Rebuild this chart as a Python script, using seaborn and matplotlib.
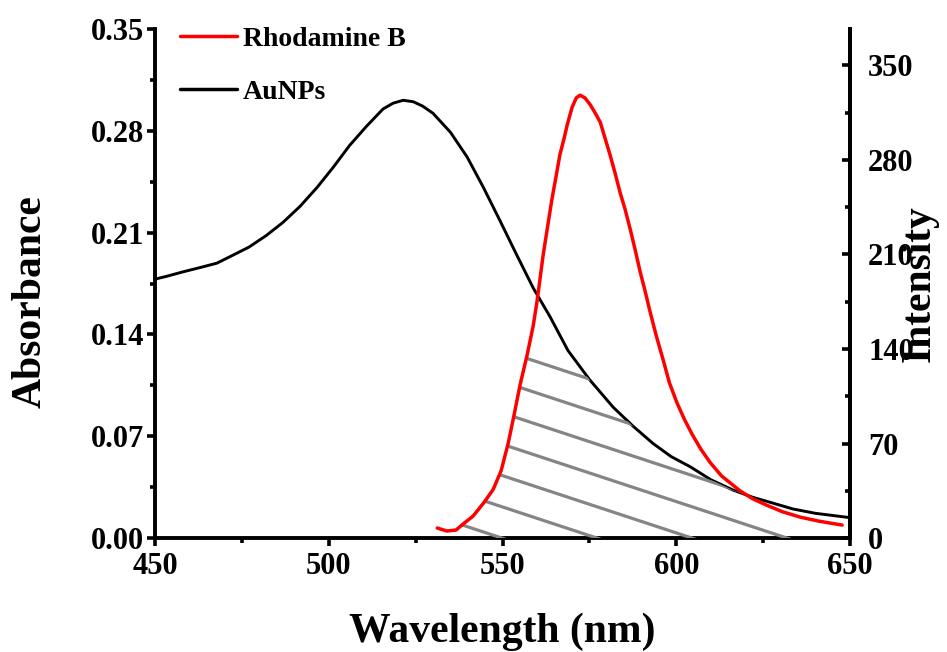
import numpy as np
import seaborn as sns
import matplotlib.pyplot as plt
from matplotlib.patches import Polygon
from matplotlib.lines import Line2D
from matplotlib.ticker import MultipleLocator, FormatStrFormatter

# AuNPs absorbance (left axis)
wl_au = [450, 453.4, 458, 463, 467.8, 472, 477, 482, 486.8, 491.7, 496.6, 501.3,
         506, 510.8, 515.6, 518.5, 521.4, 524.3, 527, 530, 535, 539.8, 544.5,
         549.3, 554, 558.8, 563.7, 568.8, 575, 581.8, 587.5, 593.3, 598.5, 604,
         610, 616.3, 622, 627.8, 633.5, 640, 645, 650]
abs_au = [0.178, 0.180, 0.183, 0.186, 0.189, 0.194, 0.200, 0.208, 0.217, 0.228,
          0.241, 0.255, 0.270, 0.283, 0.295, 0.299, 0.301, 0.300, 0.297, 0.292,
          0.279, 0.262, 0.241, 0.218, 0.195, 0.172, 0.152, 0.129, 0.109, 0.090,
          0.077, 0.065, 0.056, 0.049, 0.040, 0.033, 0.028, 0.024, 0.020, 0.017,
          0.0155, 0.014]

# Rhodamine B fluorescence intensity (right axis)
wl_rb = [531.2, 534.0, 536.6, 538.6, 541.5, 544.7, 547.3, 549.6, 551.6, 553.3,
         555.0, 557.1, 558.8, 559.9, 561.7, 563.1, 564.2, 565.4, 566.5, 567.7,
         568.6, 570.0, 571.2, 572.3, 573.7, 575.2, 576.6, 578.1, 579.5, 580.9,
         582.4, 583.8, 585.3, 586.7, 588.1, 589.6, 591.0, 592.4, 594.2, 596.2,
         598.0, 600.2, 602.3, 604.5, 607.0, 609.7, 613.0, 618.3, 622.0, 626.0,
         630.5, 635.6, 641.0, 647.7]
int_rb = [7.4, 5.2, 5.9, 10.3, 16.2, 26.5, 36, 50, 70, 91,
          113, 136, 157, 175, 210, 233, 251, 268, 284, 296,
          306, 319, 326, 328, 326, 321, 315, 308, 296, 284,
          270, 256, 243, 229, 214, 197, 183, 168, 150, 132,
          115, 100, 88, 77, 66, 56, 46, 35, 29, 24.3,
          19.5, 15.5, 12.5, 9.6]

x_ticks = [450, 500, 550, 600, 650]
y1_ticks = [0.00, 0.07, 0.14, 0.21, 0.28, 0.35]
y2_ticks = [0, 70, 140, 210, 280, 350]
y1_max = 0.35
y2_max = 377

sns.set_style("ticks")
plt.rcParams['font.family'] = ['Liberation Serif', 'DejaVu Serif']
plt.rcParams['font.weight'] = 'bold'
plt.rcParams['axes.labelweight'] = 'bold'
for key in ['text.color', 'axes.labelcolor', 'xtick.color', 'ytick.color', 'axes.edgecolor']:
    plt.rcParams[key] = 'black'

fig = plt.figure(figsize=(9.47, 6.52), dpi=100)
ax = fig.add_axes([0.1637, 0.1748, 0.734, 0.7807])
ax2 = ax.twinx()

sns.lineplot(x=wl_au, y=abs_au, ax=ax, color='black', lw=2.1, sort=False, estimator=None)
sns.lineplot(x=wl_rb, y=int_rb, ax=ax2, color='#ff0000', lw=2.5, sort=False, estimator=None)

ax.set_xlim(450, 650)
ax.set_ylim(0, y1_max)
ax2.set_ylim(0, y2_max)

# shaded overlap region (hatched with grey lines)
grid = np.linspace(wl_rb[0], 633, 400)
red_i = np.interp(grid, wl_rb, int_rb)
blk_i = np.interp(grid, wl_au, abs_au) * y2_max / y1_max
top = np.minimum(red_i, blk_i)
verts = np.column_stack([np.r_[grid, grid[::-1]], np.r_[top, np.zeros_like(grid)]])
clip = Polygon(verts, closed=True, transform=ax2.transData, facecolor='none', edgecolor='none')
ax2.add_patch(clip)
slope = 0.45
gap = 0.1367
for k in range(-3, 4):
    x0 = 0.909 + k * gap
    hl = Line2D([x0 - 2, x0 + 0.05], [2 * slope, -0.05 * slope], transform=ax2.transAxes,
                color='#858585', lw=2.3, zorder=1.5)
    ax2.add_line(hl)
    hl.set_clip_path(clip)

# axes styling
for a in (ax, ax2):
    for s in a.spines.values():
        s.set_linewidth(2.8)
    a.spines['top'].set_visible(False)
ax2.spines['left'].set_visible(False)
ax2.spines['bottom'].set_visible(False)

ax.set_xticks(x_ticks)
ax.xaxis.set_minor_locator(MultipleLocator(25))
ax.set_yticks(y1_ticks)
ax.yaxis.set_minor_locator(MultipleLocator(0.035))
ax.yaxis.set_major_formatter(FormatStrFormatter('%.2f'))
ax2.set_yticks(y2_ticks)
ax2.yaxis.set_minor_locator(MultipleLocator(35))

ax.tick_params(axis='both', which='major', direction='out', length=6, width=2.6,
               labelsize=22, pad=2)
ax.tick_params(axis='both', which='minor', direction='out', length=3.5, width=2.6)
ax.tick_params(axis='x', which='major', pad=4)
ax2.tick_params(axis='y', which='major', direction='in', length=6, width=2.6,
                labelsize=22, pad=13)
ax2.tick_params(axis='y', which='minor', direction='in', length=3.5, width=2.6)
for lab in ax.get_xticklabels() + ax.get_yticklabels() + ax2.get_yticklabels():
    lab.set_fontweight('bold')

ax.set_xlabel('Wavelength (nm)', fontsize=30, fontweight='bold')
ax.set_ylabel('Absorbance', fontsize=30, fontweight='bold')
ax2.set_ylabel('Intensity', fontsize=30, fontweight='bold')
ax.xaxis.set_label_coords(0.5, -0.147)
ax.yaxis.set_label_coords(-0.152, 0.465)
ax2.yaxis.set_label_coords(1.072, 0.5)

handles = [Line2D([], [], color='#ff0000', lw=2.5), Line2D([], [], color='black', lw=2.5)]
ax.legend(handles, ['Rhodamine B', 'AuNPs'], loc='upper left', bbox_to_anchor=(0.036, 1.005),
          frameon=False, handlelength=2.05, handletextpad=0.22, labelspacing=1.0,
          borderpad=0, borderaxespad=0, prop={'weight': 'bold', 'size': 20})

fig.savefig('out.png', dpi=100)
